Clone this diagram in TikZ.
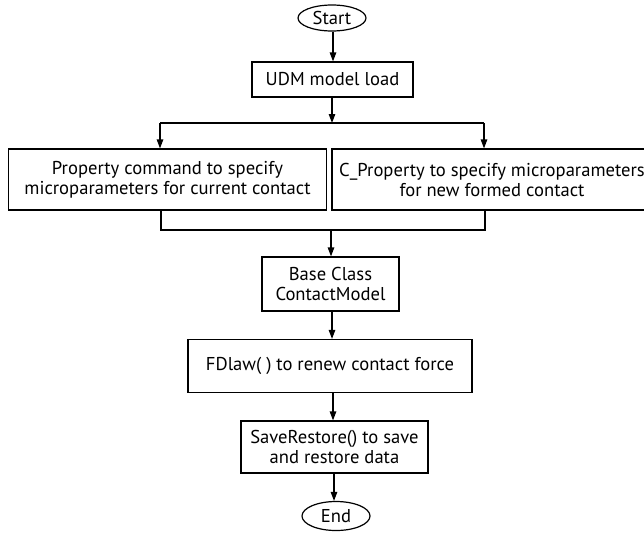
\documentclass[tikz,border=0pt]{standalone}
\usepackage{fontspec}
\setmainfont{PT Sans}
\usetikzlibrary{arrows.meta,shapes.geometric}
\begin{document}
\begin{tikzpicture}[x=1pt,y=-1pt,
  every node/.style={font=\fontsize{18.6}{20}\selectfont, align=center, inner sep=0pt},
  box/.style={draw, line width=1.2pt},
  term/.style={draw, ellipse, line width=1.2pt},
  conn/.style={line width=1.2pt},
  arr/.style={conn, -{Triangle[length=9pt,width=6.5pt]}}]
\useasboundingbox (0,0) rectangle (644,533);
\node[term, minimum width=68, minimum height=26] (start) at (332,18) {Start};
\node[box, minimum width=161, minimum height=35] (udm) at (332.5,79.5) {UDM model load};
\node[box, minimum width=318, minimum height=61] (left) at (167.5,179.5) {Property command to specify\\microparameters for current contact};
\node[box, minimum width=320, minimum height=61] (right) at (492,179.5) {C\_Property to specify microparameters\\for new formed contact};
\node[box, minimum width=137, minimum height=54] (base) at (330.5,284) {Base Class\\ContactModel};
\node[box, minimum width=284, minimum height=53] (fd) at (330,366) {FDlaw( ) to renew contact force};
\node[box, minimum width=187, minimum height=52] (save) at (334.5,447) {SaveRestore() to save\\and restore data};
\node[term, minimum width=68, minimum height=29] (end) at (336,516) {End};
\coordinate (j1) at (332,123);
\coordinate (j1L) at (160,123);
\coordinate (j1R) at (484,123);
\coordinate (j2) at (331,230);
\coordinate (j2L) at (161,230);
\coordinate (j2R) at (485,230);
\draw[arr] (start.south -| 333,0) -- (udm.north -| 333,0);
\draw[arr] (udm.south -| j1) -- (j1);
\draw[conn] (j1L) -- (j1R);
\draw[arr] (j1L) -- (j1L |- left.north);
\draw[arr] (j1R) -- (j1R |- right.north);
\draw[conn] (left.south -| j2L) -- (j2L) -- (j2R) -- (right.south -| j2R);
\draw[arr] (j2) -- (j2 |- base.north);
\draw[arr] (base.south -| 332,0) -- (fd.north -| 332,0);
\draw[arr] (fd.south -| 333,0) -- (save.north -| 333,0);
\draw[arr] (save.south -| 334,0) -- (end.north -| 334,0);
\end{tikzpicture}
\end{document}
